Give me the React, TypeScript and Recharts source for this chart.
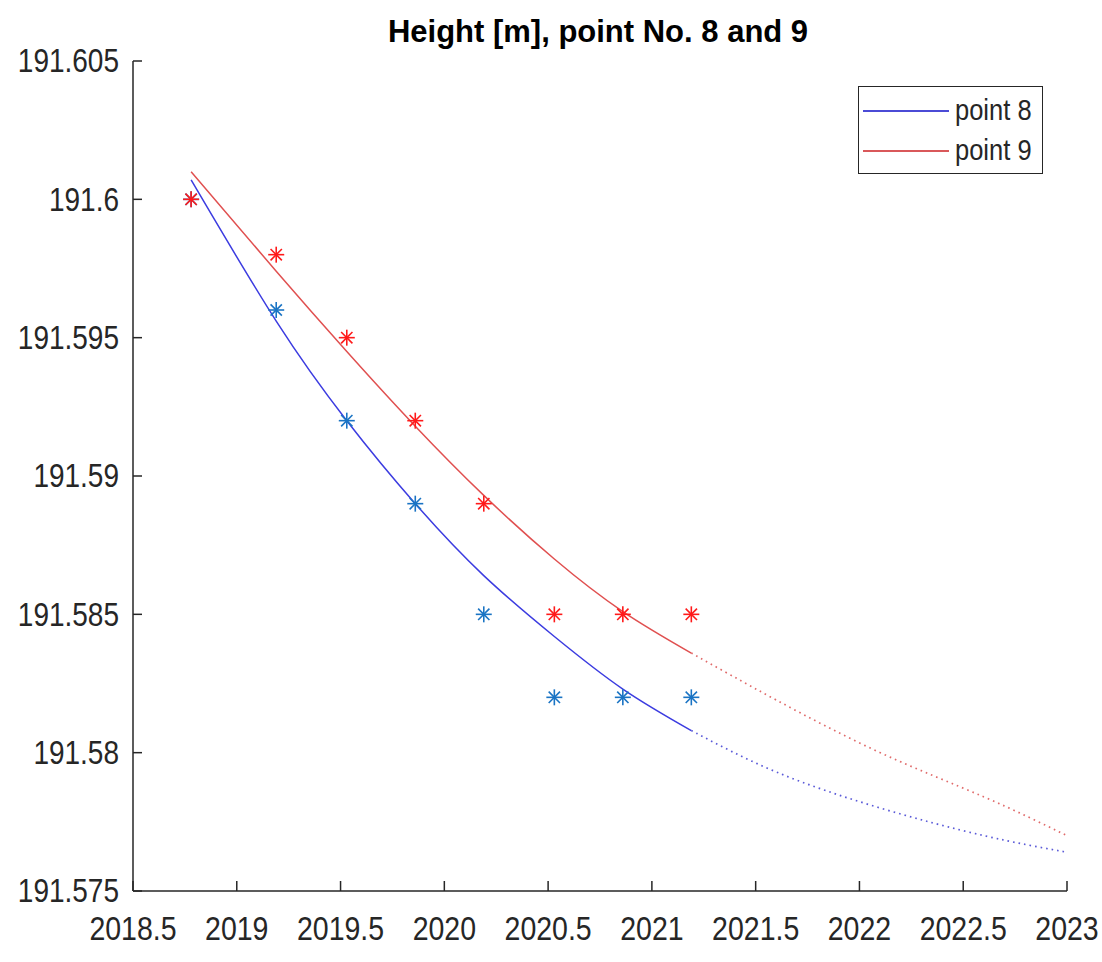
import { ComposedChart, Line, Scatter, XAxis, YAxis, Legend } from "recharts";

// survey epochs (decimal years)
const epochs = [2018.78, 2019.19, 2019.53, 2019.86, 2020.19, 2020.53, 2020.86, 2021.19];

// measured heights [m]
const measured8 = [191.6, 191.596, 191.592, 191.589, 191.585, 191.582, 191.582, 191.582];
const measured9 = [191.6, 191.598, 191.595, 191.592, 191.589, 191.585, 191.585, 191.585];

// fitted curve, read at the epochs
const fit8 = [191.6007, 191.5956, 191.592, 191.589, 191.5864, 191.5842, 191.5823, 191.5808];
const fit9 = [191.601, 191.5974, 191.5945, 191.5918, 191.5893, 191.587, 191.5851, 191.5836];

// extrapolation (dotted part)
const forecastYears = [2021.19, 2021.6, 2022.1, 2022.6, 2023];
const forecast8 = [191.5808, 191.5793, 191.578, 191.577, 191.5764];
const forecast9 = [191.5836, 191.5819, 191.58, 191.5784, 191.577];

const xTicks = [2018.5, 2019, 2019.5, 2020, 2020.5, 2021, 2021.5, 2022, 2022.5, 2023];
const yTicks = [191.575, 191.58, 191.585, 191.59, 191.595, 191.6, 191.605];

const toPoints = (xs: number[], ys: number[]) => xs.map((t, i) => ({ t, v: ys[i] }));

const FONT = '"Liberation Sans", Arial, Helvetica, sans-serif';
const INK = "#262626";
const BLUE_LINE = "#3c3ce0";
const RED_LINE = "#e05050";
const BLUE_MARK = "#1a74c4";
const RED_MARK = "#ff1a1a";

const fmt = (v: number) => String(parseFloat(v.toFixed(3)));

function YTick(props: any) {
  const { x, y, payload } = props;
  return (
    <g>
      <line x1={x} y1={y} x2={x + 9} y2={y} stroke={INK} strokeWidth={1.5} />
      <g transform={`translate(${x - 14},${y}) scale(1,1.16)`}>
        <text x={0} y={0} textAnchor="end" dominantBaseline="central" fontSize={28} fill={INK} fontFamily={FONT}>
          {fmt(payload.value)}
        </text>
      </g>
    </g>
  );
}

function XTick(props: any) {
  const { x, y, payload } = props;
  return (
    <g>
      <line x1={x} y1={y} x2={x} y2={y - 10} stroke={INK} strokeWidth={1.5} />
      <g transform={`translate(${x},${y + 38}) scale(1,1.16)`}>
        <text x={0} y={0} textAnchor="middle" dominantBaseline="central" fontSize={28.5} fill={INK} fontFamily={FONT}>
          {fmt(payload.value)}
        </text>
      </g>
    </g>
  );
}

function Star(props: any) {
  const { cx, cy, fill } = props;
  if (cx == null || cy == null) return null;
  const r = 8;
  const d = r * 0.707;
  return (
    <g stroke={fill} strokeWidth={1.6}>
      <line x1={cx - r} y1={cy} x2={cx + r} y2={cy} />
      <line x1={cx} y1={cy - r} x2={cx} y2={cy + r} />
      <line x1={cx - d} y1={cy - d} x2={cx + d} y2={cy + d} />
      <line x1={cx - d} y1={cy + d} x2={cx + d} y2={cy - d} />
    </g>
  );
}

const legendItems = [
  { label: "point 8", color: "#4b4bd6" },
  { label: "point 9", color: "#d9585a" },
];

function LegendBox() {
  return (
    <div
      style={{
        position: "relative",
        width: 185,
        height: 88,
        border: `1.5px solid ${INK}`,
        background: "#fff",
        fontFamily: FONT,
        boxSizing: "border-box",
      }}
    >
      {legendItems.map((item, i) => (
        <div key={item.label} style={{ position: "absolute", left: 0, top: 24 + i * 40, width: 185 }}>
          <div
            style={{
              position: "absolute",
              left: 4,
              top: -1,
              width: 86,
              height: 2,
              background: item.color,
            }}
          />
          <span
            style={{
              position: "absolute",
              left: 96,
              top: -17,
              fontSize: 25.5,
              lineHeight: "32px",
              color: INK,
              whiteSpace: "nowrap",
              display: "inline-block",
              transform: "scaleY(1.15)",
            }}
          >
            {item.label}
          </span>
        </div>
      ))}
    </div>
  );
}

export default function App() {
  return (
    <div style={{ position: "absolute", left: 0, top: 0, width: 1102, height: 962, background: "#fff" }}>
      <div
        style={{
          position: "absolute",
          left: 0,
          top: 17,
          width: 1196,
          textAlign: "center",
          fontFamily: FONT,
          fontWeight: "bold",
          fontSize: 31,
          lineHeight: "30px",
          color: "#000",
        }}
      >
        Height [m], point No. 8 and 9
      </div>
      <ComposedChart width={1102} height={962} margin={{ top: 61, right: 35, bottom: 21, left: 0 }}>
        <XAxis
          type="number"
          dataKey="t"
          domain={[2018.5, 2023]}
          ticks={xTicks}
          interval={0}
          allowDataOverflow
          height={50}
          tickSize={0}
          tickMargin={0}
          tickLine={false}
          axisLine={{ stroke: INK, strokeWidth: 1.5 }}
          tick={<XTick />}
        />
        <YAxis
          type="number"
          dataKey="v"
          domain={[191.575, 191.605]}
          ticks={yTicks}
          interval={0}
          allowDataOverflow
          width={133}
          tickSize={0}
          tickMargin={0}
          tickLine={false}
          axisLine={{ stroke: INK, strokeWidth: 1.5 }}
          tick={<YTick />}
        />
        <Legend
          verticalAlign="middle"
          align="center"
          layout="horizontal"
          wrapperStyle={{ position: "absolute", left: 858, top: 86, width: 185, height: 88 }}
          content={() => <LegendBox />}
        />
        <Line
          data={toPoints(epochs, fit8)}
          dataKey="v"
          type="natural"
          stroke={BLUE_LINE}
          strokeWidth={1.5}
          dot={false}
          isAnimationActive={false}
          legendType="none"
        />
        <Line
          data={toPoints(epochs, fit9)}
          dataKey="v"
          type="natural"
          stroke={RED_LINE}
          strokeWidth={1.5}
          dot={false}
          isAnimationActive={false}
          legendType="none"
        />
        <Line
          data={toPoints(forecastYears, forecast8)}
          dataKey="v"
          type="natural"
          stroke="#5a5ad8"
          strokeWidth={1.7}
          strokeDasharray="1.6 4"
          dot={false}
          isAnimationActive={false}
          legendType="none"
        />
        <Line
          data={toPoints(forecastYears, forecast9)}
          dataKey="v"
          type="natural"
          stroke="#e06a6a"
          strokeWidth={1.7}
          strokeDasharray="1.6 4"
          dot={false}
          isAnimationActive={false}
          legendType="none"
        />
        <Scatter
          data={toPoints(epochs, measured8)}
          dataKey="v"
          fill={BLUE_MARK}
          shape={<Star />}
          isAnimationActive={false}
          legendType="none"
        />
        <Scatter
          data={toPoints(epochs, measured9)}
          dataKey="v"
          fill={RED_MARK}
          shape={<Star />}
          isAnimationActive={false}
          legendType="none"
        />
      </ComposedChart>
    </div>
  );
}
